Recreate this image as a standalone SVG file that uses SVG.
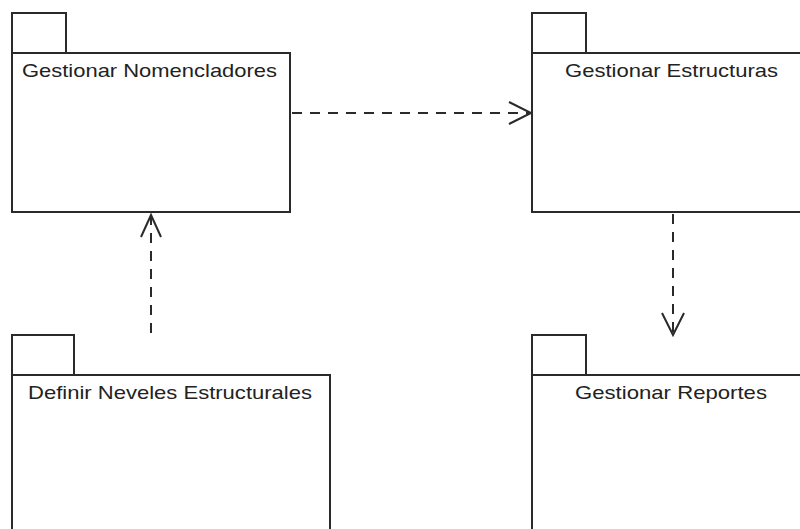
<svg xmlns="http://www.w3.org/2000/svg" width="800" height="529" viewBox="0 0 800 529">
<style>
.box{fill:#fff;stroke:#2a2a2a;stroke-width:2}
.lbl{font-family:"Liberation Sans",Arial,sans-serif;font-size:19px;fill:#222}
.dep{fill:none;stroke:#2a2a2a;stroke-width:2;stroke-dasharray:10 8}
.head{fill:none;stroke:#2a2a2a;stroke-width:2}
</style>
<rect width="800" height="529" fill="#fff"/>
<g id="node-nomencladores">
<rect class="box" x="12" y="13" width="54" height="40"/>
<rect class="box" x="12" y="53" width="278" height="159"/>
<text class="lbl" x="22" y="77" textLength="255" lengthAdjust="spacingAndGlyphs">Gestionar Nomencladores</text>
</g>
<g id="node-estructuras">
<rect class="box" x="532" y="13" width="54" height="40"/>
<rect class="box" x="532" y="53" width="280" height="159"/>
<text class="lbl" x="565" y="77" textLength="213" lengthAdjust="spacingAndGlyphs">Gestionar Estructuras</text>
</g>
<g id="node-niveles">
<rect class="box" x="12" y="335" width="62" height="40"/>
<rect class="box" x="12" y="375" width="318" height="170"/>
<text class="lbl" x="28" y="399" textLength="284" lengthAdjust="spacingAndGlyphs">Definir Neveles Estructurales</text>
</g>
<g id="node-reportes">
<rect class="box" x="532" y="335" width="54" height="40"/>
<rect class="box" x="532" y="375" width="280" height="170"/>
<text class="lbl" x="575" y="399" textLength="192" lengthAdjust="spacingAndGlyphs">Gestionar Reportes</text>
</g>
<g id="connectors">
<line class="dep" x1="292" y1="113" x2="530" y2="113"/>
<polyline class="head" points="509,102 531,113 509,124"/>
<line class="dep" x1="151" y1="333" x2="151" y2="215"/>
<polyline class="head" points="141,237 151,215 161,237"/>
<line class="dep" x1="673" y1="214" x2="673" y2="334"/>
<polyline class="head" points="662,313 673,335 684,313"/>
</g>
</svg>
